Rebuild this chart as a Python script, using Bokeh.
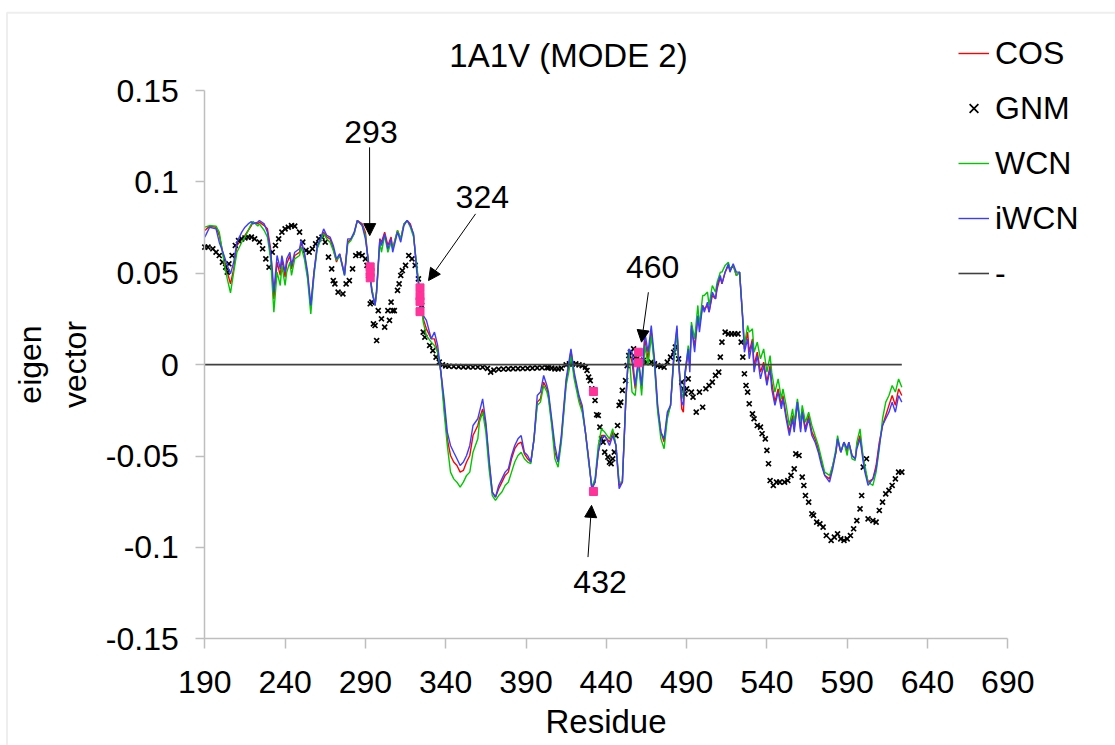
from bokeh.plotting import figure
from bokeh.models import (Range1d, FixedTicker, Legend, LegendItem, Arrow,
                          NormalHead, BoxAnnotation)
from bokeh.core.properties import value
from bokeh.embed import file_html
from bokeh.resources import INLINE

FONT = "Liberation Sans"

# ---------------- data ----------------
res = [190, 193, 197, 199, 202, 204, 206, 208, 210, 213,
       215, 217, 219, 220, 223, 224, 227, 229, 231, 232,
       233, 235, 237, 238, 240, 241, 243, 244, 246, 249,
       250, 252, 254, 256, 258, 260, 262, 264, 266, 268,
       270, 272, 274, 277, 279, 281, 283, 285, 288, 290,
       292, 294, 296, 297, 299, 300, 302, 304, 306, 307,
       310, 312, 314, 316, 318, 320, 322, 324, 326, 328,
       331, 333, 335, 337, 339, 341, 343, 345, 347, 349,
       351, 353, 355, 357, 360, 361, 363, 365, 367, 369,
       371, 373, 375, 377, 379, 381, 383, 385, 387, 389,
       391, 393, 395, 397, 399, 401, 403, 404, 406, 408,
       410, 412, 415, 417, 418, 420, 423, 425, 427, 429,
       431, 433, 435, 437, 439, 442, 444, 446, 448, 450,
       452, 454, 456, 458, 460, 462, 464, 466, 468, 470,
       472, 474, 476, 478, 480, 482, 484, 485, 487, 488,
       489, 491, 492, 493, 495, 497, 498, 500, 501, 503,
       504, 506, 508, 509, 511, 512, 514, 516, 517, 519,
       521, 523, 525, 526, 528, 529, 531, 532, 534, 536,
       538, 540, 542, 543, 545, 547, 549, 550, 552, 554,
       556, 557, 559, 561, 562, 564, 566, 568, 570, 572,
       574, 576, 579, 581, 583, 584, 586, 588, 590, 591,
       593, 595, 596, 598, 600, 601, 603, 606, 608, 610,
       612, 614, 616, 618, 620, 622, 624]

iwcn = [.0698, .0752, .0743, .0670, .0597, .0543, .0497, .0561, .0670, .0725,
        .0752, .0770, .0783, .0770, .0780, .0789, .0770, .0725, .0615, .0524,
        .0397, .0597, .0524, .0597, .0506, .0579, .0615, .0543, .0615, .0634,
        .0679, .0615, .0506, .0324, .0506, .0652, .0688, .0743, .0707, .0698,
        .0652, .0579, .0606, .0488, .0688, .0688, .0725, .0789, .0761, .0688,
        .0561, .0397, .0324, .0415, .0688, .0652, .0716, .0634, .0688, .0615,
        .0725, .0670, .0761, .0789, .0761, .0716, .0506, .0378, .0269, .0242,
        .0141, .0178, .0105, -.0041, -.0187, -.0369, -.0442, -.0479, -.0515, -.0552,
        -.0533, -.0497, -.0442, -.0333, -.0296, -.0260, -.0187, -.0315, -.0515, -.0697,
        -.0725, -.0661, -.0625, -.0588, -.0570, -.0497, -.0442, -.0406, -.0388, -.0479,
        -.0497, -.0533, -.0406, -.0169, -.0150, -.0059, -.0114, -.0150, -.0296, -.0442,
        -.0533, -.0388, -.0078, .0032, .0086, -.0041, -.0169, -.0223, -.0369, -.0515,
        -.0679, -.0643, -.0479, -.0406, -.0388, -.0442, -.0388, -.0442, -.0679, -.0643,
        -.0223, .0086, .0068, -.0114, .0032, -.0114, .0178, .0068, .0214, .0032,
        -.0223, -.0369, -.0406, -.0260, -.0223, .0050, .0214, .0032, -.0205, -.0223,
        -.0041, .0086, -.0041, .0214, .0068, .0269, .0178, .0324, .0287, .0342,
        .0287, .0397, .0360, .0433, .0488, .0442, .0506, .0552, .0506, .0552,
        .0506, .0506, .0233, .0068, .0141, .0032, .0123, -.0041, .0050, -.0078,
        -.0005, -.0114, -.0023, -.0132, -.0223, -.0150, -.0242, -.0187, -.0296, -.0388,
        -.0296, -.0369, -.0205, -.0369, -.0260, -.0369, -.0296, -.0388, -.0424, -.0479,
        -.0552, -.0606, -.0643, -.0570, -.0479, -.0406, -.0479, -.0424, -.0460, -.0424,
        -.0497, -.0515, -.0460, -.0406, -.0533, -.0588, -.0661, -.0625, -.0570, -.0442,
        -.0333, -.0296, -.0260, -.0205, -.0260, -.0169, -.0205]

cos = [.0734, .0758, .0752, .0707, .0579, .0506, .0442, .0524, .0652, .0688,
       .0707, .0734, .0761, .0780, .0770, .0780, .0761, .0743, .0634, .0488,
       .0360, .0561, .0488, .0579, .0479, .0552, .0597, .0524, .0597, .0615,
       .0670, .0606, .0488, .0314, .0506, .0643, .0688, .0725, .0698, .0688,
       .0634, .0561, .0606, .0497, .0670, .0688, .0716, .0789, .0770, .0725,
       .0543, .0415, .0324, .0397, .0688, .0670, .0725, .0652, .0698, .0634,
       .0734, .0688, .0770, .0789, .0770, .0707, .0524, .0397, .0251, .0196,
       .0141, .0141, .0068, -.0041, -.0223, -.0406, -.0497, -.0533, -.0552, -.0588,
       -.0579, -.0533, -.0497, -.0388, -.0333, -.0296, -.0242, -.0333, -.0533, -.0697,
       -.0725, -.0679, -.0643, -.0606, -.0588, -.0515, -.0460, -.0433, -.0424, -.0488,
       -.0515, -.0533, -.0406, -.0205, -.0187, -.0096, -.0132, -.0169, -.0315, -.0479,
       -.0533, -.0406, -.0096, .0014, .0077, -.0059, -.0187, -.0242, -.0369, -.0515,
       -.0679, -.0643, -.0479, -.0388, -.0388, -.0424, -.0369, -.0442, -.0661, -.0643,
       -.0223, .0086, .0014, -.0132, .0014, -.0132, .0141, .0032, .0178, .0014,
       -.0242, -.0369, -.0424, -.0278, -.0223, .0032, .0196, .0014, -.0242, -.0260,
       -.0059, .0068, -.0005, .0196, .0105, .0251, .0214, .0324, .0305, .0324,
       .0287, .0378, .0360, .0415, .0479, .0442, .0506, .0543, .0515, .0543,
       .0488, .0506, .0251, .0086, .0178, .0068, .0141, -.0005, .0068, -.0041,
       .0014, -.0096, -.0005, -.0096, -.0205, -.0132, -.0223, -.0169, -.0278, -.0369,
       -.0278, -.0351, -.0205, -.0351, -.0242, -.0351, -.0278, -.0369, -.0406, -.0460,
       -.0533, -.0606, -.0625, -.0552, -.0479, -.0406, -.0479, -.0424, -.0479, -.0424,
       -.0497, -.0515, -.0442, -.0388, -.0515, -.0570, -.0643, -.0625, -.0552, -.0424,
       -.0333, -.0278, -.0223, -.0169, -.0223, -.0132, -.0169]

wcn = [.0752, .0761, .0758, .0725, .0561, .0469, .0393, .0506, .0615, .0670,
       .0698, .0734, .0770, .0783, .0758, .0770, .0734, .0698, .0579, .0433,
       .0287, .0506, .0433, .0543, .0433, .0506, .0561, .0488, .0579, .0597,
       .0643, .0579, .0469, .0278, .0488, .0634, .0679, .0716, .0688, .0670,
       .0625, .0570, .0597, .0488, .0661, .0679, .0716, .0789, .0761, .0707,
       .0543, .0415, .0324, .0397, .0670, .0615, .0707, .0615, .0670, .0634,
       .0734, .0688, .0770, .0789, .0752, .0698, .0543, .0378, .0233, .0159,
       .0123, .0105, .0068, -.0041, -.0260, -.0442, -.0588, -.0625, -.0643, -.0670,
       -.0643, -.0606, -.0588, -.0479, -.0406, -.0315, -.0260, -.0369, -.0570, -.0716,
       -.0743, -.0716, -.0697, -.0661, -.0643, -.0588, -.0533, -.0497, -.0479, -.0515,
       -.0533, -.0542, -.0406, -.0223, -.0205, -.0114, -.0150, -.0187, -.0333, -.0515,
       -.0561, -.0424, -.0114, -.0023, .0050, -.0078, -.0205, -.0260, -.0369, -.0533,
       -.0670, -.0625, -.0442, -.0351, -.0369, -.0406, -.0351, -.0442, -.0643, -.0643,
       -.0223, .0086, -.0150, -.0169, .0014, -.0169, .0105, -.0005, .0159, -.0005,
       -.0260, -.0406, -.0460, -.0296, -.0223, .0014, .0178, .0014, -.0187, -.0150,
       -.0059, .0105, .0014, .0233, .0141, .0324, .0214, .0378, .0378, .0397,
       .0324, .0433, .0397, .0451, .0506, .0506, .0543, .0561, .0524, .0543,
       .0488, .0506, .0251, .0105, .0214, .0178, .0196, .0068, .0123, .0032,
       .0086, -.0041, .0050, -.0041, -.0150, -.0078, -.0187, -.0132, -.0223, -.0333,
       -.0242, -.0315, -.0187, -.0315, -.0223, -.0315, -.0260, -.0333, -.0388, -.0442,
       -.0515, -.0588, -.0606, -.0552, -.0460, -.0388, -.0479, -.0424, -.0497, -.0424,
       -.0515, -.0524, -.0424, -.0351, -.0515, -.0552, -.0643, -.0661, -.0588, -.0460,
       -.0296, -.0205, -.0169, -.0114, -.0150, -.0078, -.0123]

gnm_res = [190, 192, 195, 197, 199, 201, 203, 204, 205, 207,
           209, 211, 213, 215, 217, 219, 221, 224, 226, 228,
           230, 232, 234, 236, 238, 240, 242, 244, 246, 249,
           251, 253, 255, 257, 259, 261, 263, 265, 267, 269,
           270, 271, 273, 276, 278, 280, 282, 284, 286, 288,
           290, 291, 292, 293, 294, 295, 296, 297, 298, 300,
           302, 304, 305, 306, 307, 308, 310, 311, 312, 313,
           315, 317, 319, 321, 323, 324, 325, 326, 327, 330,
           332, 334, 336, 338, 340, 342, 345, 348, 351, 354,
           357, 360, 363, 366, 368, 370, 373, 376, 379, 382,
           385, 388, 391, 394, 397, 400, 403, 404, 406, 408,
           410, 412, 415, 417, 419, 421, 423, 425, 427, 428,
           429, 430, 431, 433, 434, 435, 436, 437, 438, 439,
           441, 442, 443, 444, 445, 446, 447, 448, 449, 450,
           452, 453, 454, 455, 457, 458, 459, 461, 463, 465,
           468, 470, 472, 474, 476, 478, 480, 482, 483, 485,
           487, 488, 489, 490, 491, 493, 494, 496, 498, 500,
           502, 504, 506, 508, 510, 511, 512, 514, 516, 518,
           520, 522, 524, 525, 526, 527, 528, 529, 531, 532,
           534, 536, 537, 539, 540, 541, 542, 544, 546, 548,
           551, 553, 555, 557, 558, 560, 562, 563, 564, 566,
           568, 569, 571, 573, 575, 577, 580, 582, 584, 586,
           588, 590, 592, 594, 596, 598, 599, 600, 602, 603,
           606, 608, 610, 612, 614, 616, 618, 620, 622, 624]

gnm_val = [.0643, .0643, .0634, .0615, .0597, .0561, .0533, .0506, .0552, .0597,
           .0652, .0679, .0688, .0693, .0698, .0698, .0688, .0670, .0634, .0579,
           .0533, .0615, .0652, .0688, .0725, .0743, .0752, .0761, .0758, .0725,
           .0670, .0625, .0615, .0634, .0661, .0688, .0698, .0670, .0588, .0524,
           .0460, .0442, .0397, .0387, .0442, .0460, .0524, .0597, .0606, .0597,
           .0579, .0543, .0488, .0333, .0342, .0223, .0214, .0132, .0296, .0251,
           .0205, .0296, .0242, .0342, .0296, .0296, .0406, .0442, .0488, .0515,
           .0543, .0597, .0579, .0543, .0469, .0397, .0324, .0178, .0150, .0105,
           .0077, .0041, .0014, -.0001, -.0007, -.0009, -.0010, -.0011, -.0012, -.0012,
           -.0013, -.0013, -.0014, -.0020, -.0041, -.0030, -.0025, -.0024, -.0023, -.0022,
           -.0022, -.0021, -.0020, -.0019, -.0018, -.0017, -.0016, -.0017, -.0019, -.0023,
           -.0023, -.0019, -.0001, .0004, .0004, .0004, -.0001, -.0005, -.0014, -.0032,
           -.0068, -.0087, -.0132, -.0196, -.0274, -.0278, -.0342, -.0406, -.0424, -.0479,
           -.0506, -.0533, -.0542, -.0515, -.0479, -.0388, -.0333, -.0223, -.0205, -.0141,
           -.0087, -.0005, .0050, .0068, .0086, .0041, .0032, .0023, .0023, .0014,
           .0014, .0004, -.0005, -.0010, -.0014, .0014, .0041, .0068, .0096, .0032,
           -.0096, -.0132, -.0160, -.0132, -.0078, -.0150, -.0178, -.0260, -.0150, -.0233,
           -.0132, -.0114, -.0096, -.0059, -.0041, .0041, .0123, .0178, .0168, .0168,
           .0168, .0168, .0123, .0041, -.0050, -.0114, -.0150, -.0214, -.0269, -.0296,
           -.0333, -.0342, -.0378, -.0406, -.0469, -.0542, -.0634, -.0661, -.0643, -.0643,
           -.0643, -.0634, -.0606, -.0570, -.0488, -.0497, -.0615, -.0661, -.0716, -.0752,
           -.0816, -.0825, -.0862, -.0871, -.0889, -.0935, -.0962, -.0944, -.0926, -.0953,
           -.0962, -.0953, -.0935, -.0898, -.0853, -.0789, -.0716, -.0561, -.0515, -.0844,
           -.0853, -.0862, -.0798, -.0752, -.0707, -.0688, -.0661, -.0625, -.0588, -.0588]

zero_x = [190, 624]
zero_y = [0, 0]

hl_res = [293, 293, 293, 324, 324, 324, 324, 432, 432, 460, 460]
hl_val = [.0535, .0505, .0475, .0420, .0375, .0345, .0290, -.0147, -.0694, .0068, .0010]

title_text = "1A1V (MODE 2)"
ann_text = ["293", "324", "460", "432"]
ann_x = [293.5, 362.8, 468.9, 436.1]
ann_y = [0.1271, 0.0916, 0.0533, -0.1190]
arr_x0 = [292.6, 358.6, 466.2, 428.6]
arr_y0 = [0.1189, 0.0825, 0.0396, -0.1053]
arr_x1 = [292.7, 329.3, 461.9, 430.8]
arr_y1 = [0.0706, 0.0460, 0.0123, -0.0770]

x_ticks = [190, 240, 290, 340, 390, 440, 490, 540, 590, 640, 690]
y_ticks = [-0.15, -0.1, -0.05, 0, 0.05, 0.1, 0.15]
y_tick_labels = ["-0.15", "-0.1", "-0.05", "0", "0.05", "0.1", "0.15"]

# ---------------- layout (whole canvas is the frame; axes are fixed) ----------------
W, H = 1115, 745
X_BOUNDS = (190, 690)
Y_BOUNDS = (-0.15, 0.15)
PX_PER_X = 80.3 / 50.0          # pixels per residue
PX_PER_Y = 548.3 / 0.3          # pixels per eigenvector unit
AX_LEFT_PX, ZERO_PX = 204.3, 364.15

x0 = X_BOUNDS[0] - AX_LEFT_PX / PX_PER_X
x1 = X_BOUNDS[0] + (W - AX_LEFT_PX) / PX_PER_X
y1 = ZERO_PX / PX_PER_Y
y0 = -(H - ZERO_PX) / PX_PER_Y

def px_to_x(px):
    return X_BOUNDS[0] + (px - AX_LEFT_PX) / PX_PER_X

def py_to_y(py):
    return (ZERO_PX - py) / PX_PER_Y

p = figure(width=W, height=H, output_backend="svg", toolbar_location=None,
           title=None, x_range=Range1d(x0, x1), y_range=Range1d(y0, y1),
           min_border=0, min_border_left=0, min_border_right=0,
           min_border_top=0, min_border_bottom=0)
p.outline_line_color = None
p.xgrid.visible = False
p.ygrid.visible = False
p.background_fill_color = "white"
p.border_fill_color = "white"

for ax in (p.xaxis[0], p.yaxis[0]):
    ax.axis_line_color = "#bebebe"
    ax.axis_line_width = 1.5
    ax.major_tick_line_color = "#bebebe"
    ax.major_tick_line_width = 1.5
    ax.major_tick_in = 0
    ax.minor_tick_line_color = None
    ax.major_label_text_font = FONT
    ax.major_label_text_font_size = "32px"
    ax.major_label_text_color = "black"
    ax.axis_label_text_font = FONT
    ax.axis_label_text_font_style = "normal"
    ax.axis_label_text_color = "black"

p.xaxis.fixed_location = Y_BOUNDS[0]
p.xaxis.bounds = X_BOUNDS
p.xaxis.ticker = FixedTicker(ticks=x_ticks)
p.xaxis.major_tick_out = 10
p.xaxis.major_label_standoff = 22
p.xaxis.axis_label = "Residue"
p.xaxis.axis_label_text_font_size = "33px"
p.xaxis.axis_label_standoff = 7

p.yaxis.fixed_location = X_BOUNDS[0]
p.yaxis.bounds = Y_BOUNDS
p.yaxis.ticker = FixedTicker(ticks=y_ticks)
p.yaxis.major_label_overrides = dict(zip(y_ticks, y_tick_labels))
p.yaxis.major_tick_out = 9
p.yaxis.major_label_standoff = 17
p.yaxis.axis_label = "eigen\nvector"
p.yaxis.axis_label_text_font_size = "32px"
p.yaxis.axis_label_standoff = 10
p.yaxis.axis_label_text_line_height = 1.25

# outer chart-area border (top and left edges visible)
p.add_layout(BoxAnnotation(left=px_to_x(6.5), right=x1 + 50, top=py_to_y(12.3), bottom=y0 - 0.1,
                           fill_color=None, line_color="#c8c8c8", line_width=2))

# ---------------- series ----------------
r_cos = p.line(res, cos, line_color="#ff0000", line_width=1.4)
r_gnm = p.scatter(gnm_res, gnm_val, marker="x", size=7, line_color="black", line_width=1.7)
r_wcn = p.line(res, wcn, line_color="#00c800", line_width=1.4)
r_iwcn = p.line(res, iwcn, line_color="#3c3cff", line_width=1.4)
r_zero = p.line(zero_x, zero_y, line_color="#404040", line_width=1.6)
p.scatter(hl_res, hl_val, marker="square", size=8, fill_color="#ff3399", line_color="#ff3399")

# title
p.text(x=[px_to_x(568)], y=[py_to_y(55)], text=[title_text], text_font=value(FONT),
       text_font_size="33px", text_align="center", text_baseline="middle", text_color="black")

# residue annotations
p.text(x=ann_x, y=ann_y, text=ann_text, text_font=value(FONT), text_font_size="32px",
       text_align="center", text_baseline="middle", text_color="black")
for xa, ya, xb, yb in zip(arr_x0, arr_y0, arr_x1, arr_y1):
    p.add_layout(Arrow(x_start=xa, y_start=ya, x_end=xb, y_end=yb,
                       line_color="black", line_width=1,
                       end=NormalHead(size=12, fill_color="black", line_color="black")))

legend = Legend(items=[LegendItem(label="COS", renderers=[r_cos]),
                       LegendItem(label="GNM", renderers=[r_gnm]),
                       LegendItem(label="WCN", renderers=[r_wcn]),
                       LegendItem(label="iWCN", renderers=[r_iwcn]),
                       LegendItem(label="-", renderers=[r_zero])],
                location=(958, 452), orientation="vertical",
                glyph_width=31, glyph_height=40, label_height=40, spacing=15,
                padding=0, margin=0, border_line_color=None,
                background_fill_alpha=0, label_standoff=6,
                label_text_font=FONT, label_text_font_size="32px",
                label_text_color="black")
p.add_layout(legend)

open("out.html", "w").write(file_html(p, INLINE))
